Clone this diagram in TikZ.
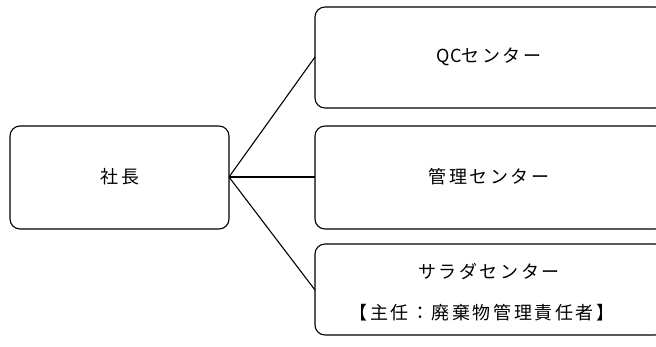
\documentclass[tikz,border=0pt]{standalone}
\usepackage{fontspec}
\newfontfamily\jp[LetterSpace=14]{Noto Sans CJK JP}
\newfontfamily\jplat{Noto Sans CJK JP}
\begin{document}
\begin{tikzpicture}[x=1pt,y=-1pt,
  box/.style={draw, line width=1.1pt, rounded corners=10pt},
  lbl/.style={font=\jp\fontsize{18}{20}\selectfont, inner sep=0pt},
  link/.style={line width=1.1pt}]
\useasboundingbox (0,0) rectangle (656,346);
\clip (0,0) rectangle (656,346);
\draw[box] (10,126) rectangle (229,229);
\coordinate (pres) at (229,177);
\node[lbl] (t0) at (120,177) {社長};
\draw[box] (315,7) rectangle (665,108);
\coordinate (qc) at (315,57);
\node[lbl] (t1) at (489,57) {{\jplat QC}センター};
\draw[box] (315,126) rectangle (665,229);
\coordinate (kanri) at (315,177);
\node[lbl] (t2) at (489,177) {管理センター};
\draw[box] (315,244) rectangle (665,335);
\coordinate (salad) at (315,290);
\node[lbl] (t3) at (489,271) {サラダセンター};
\node[lbl] (t4) at (482,313) {【主任：廃棄物管理責任者】};
\draw[link] (pres) -- (qc);
\draw[link] (pres) -- (kanri);
\draw[link] (pres) -- (salad);
\end{tikzpicture}
\end{document}
